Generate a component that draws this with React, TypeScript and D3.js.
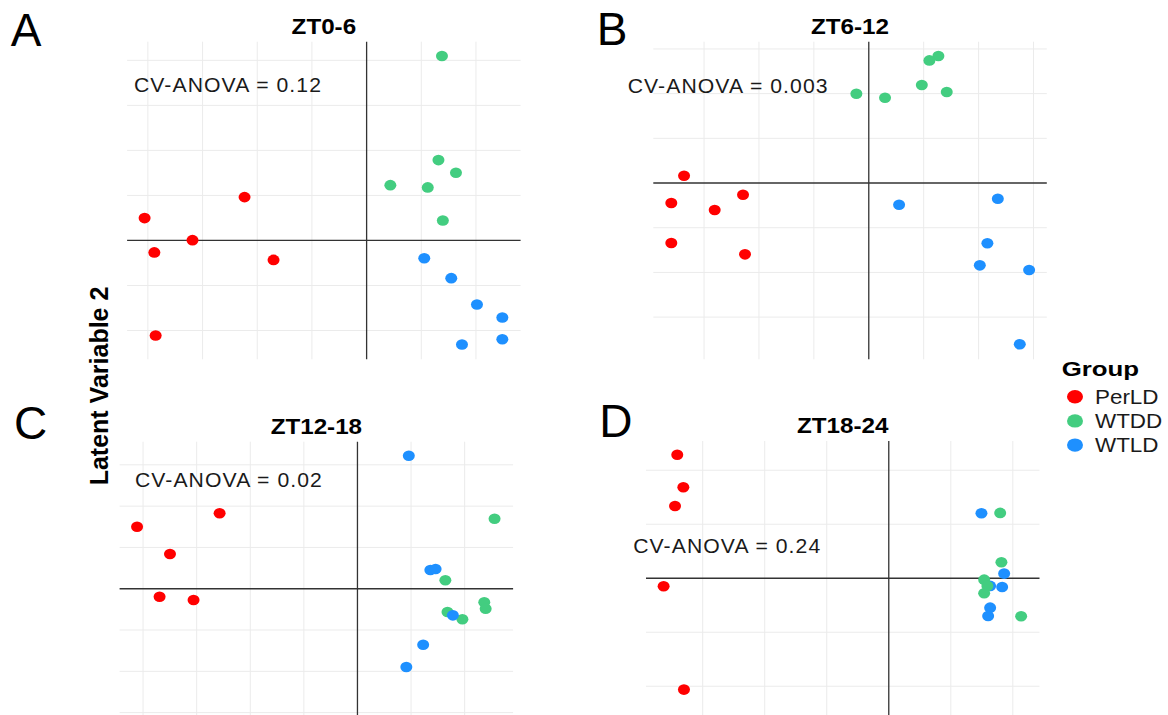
import React, { useEffect, useRef } from "react";
import * as d3 from "d3";

const groups = ["PerLD", "WTDD", "WTLD"];
const groupColors = ["#ff0000", "#43cd80", "#1e90ff"];

const panelTitles = ["ZT0-6", "ZT6-12", "ZT12-18", "ZT18-24"];
const panelLetters = ["A", "B", "C", "D"];
const cvAnova = ["0.12", "0.003", "0.02", "0.24"];

// [group, latent variable 1, latent variable 2], in drawing order
const scoresZT0_6 = [
  ["PerLD", -20.3, 2.48], ["PerLD", -11.16, 4.81], ["PerLD", -15.92, 0.03],
  ["PerLD", -19.41, -1.33], ["PerLD", -8.51, -2.16], ["PerLD", -19.29, -10.56],
  ["WTDD", 6.89, 20.48], ["WTDD", 6.57, 8.92], ["WTDD", 8.17, 7.51],
  ["WTDD", 2.17, 6.14], ["WTDD", 5.59, 5.89], ["WTDD", 6.97, 2.22],
  ["WTLD", 5.27, -1.97], ["WTLD", 7.74, -4.19], ["WTLD", 10.09, -7.11],
  ["WTLD", 12.41, -8.56], ["WTLD", 12.41, -10.97], ["WTLD", 8.72, -11.56],
];
const scoresZT6_12 = [
  ["PerLD", -16.82, 0.82], ["PerLD", -17.98, -2.24], ["PerLD", -14.03, -3.02],
  ["PerLD", -11.45, -1.31], ["PerLD", -17.98, -6.71], ["PerLD", -11.27, -7.98],
  ["WTDD", 6.34, 14.21], ["WTDD", 5.52, 13.72], ["WTDD", 4.83, 10.96],
  ["WTDD", 7.1, 10.18], ["WTDD", -1.13, 9.99], ["WTDD", 1.48, 9.54],
  ["WTLD", 2.76, -2.43], ["WTLD", 11.75, -1.76], ["WTLD", 10.8, -6.74],
  ["WTLD", 10.11, -9.21], ["WTLD", 14.6, -9.73], ["WTLD", 13.75, -18.04],
];
const scoresZT12_18 = [
  ["PerLD", -12.86, 9.13], ["PerLD", -20.56, 7.51], ["PerLD", -17.49, 4.2],
  ["PerLD", -18.46, -0.97], ["PerLD", -15.29, -1.37],
  ["WTDD", 12.79, 8.47], ["WTDD", 8.2, 1.02], ["WTDD", 11.83, -1.65],
  ["WTDD", 11.96, -2.42], ["WTDD", 8.4, -2.82], ["WTDD", 9.79, -3.7],
  ["WTLD", 4.79, 16.1], ["WTLD", 6.8, 2.26], ["WTLD", 7.29, 2.38],
  ["WTLD", 8.9, -3.22], ["WTLD", 6.13, -6.78], ["WTLD", 4.56, -9.48],
];
const scoresZT18_24 = [
  ["PerLD", -17.05, 11.44], ["PerLD", -16.56, 8.43], ["PerLD", -17.23, 6.69],
  ["PerLD", -18.15, -0.74], ["PerLD", -16.51, -10.31],
  ["WTLD", 7.47, 6.02], ["WTLD", 9.3, 0.43], ["WTLD", 8.17, -0.71],
  ["WTLD", 9.14, -0.81], ["WTLD", 8.17, -2.72], ["WTLD", 8.01, -3.49],
  ["WTDD", 8.98, 6.05], ["WTDD", 9.08, 1.48], ["WTDD", 7.69, -0.13],
  ["WTDD", 7.95, -0.71], ["WTDD", 7.69, -1.39], ["WTDD", 10.67, -3.52],
];
const panelScores = [scoresZT0_6, scoresZT6_12, scoresZT12_18, scoresZT18_24];

const xLimits = [[-21.9, 14.08], [-19.62, 16.21], [-22.19, 14.52], [-19.57, 12.15]];
const yLimits = [[-13.2, 22.07], [-19.72, 15.81], [-20.65, 17.8], [-16.7, 12.71]];
// where the CV-ANOVA note starts, in score units
const cvLabelAt = [[-21.27, 16.5], [-21.95, 10.03], [-20.76, 12.28], [-20.6, 2.31]];
const gridStep = 5;

// layout
const W = 1168;
const H = 715;
const panelW = 393.5;
const panelH = 317.6;
const panelOrigin = [[127.1, 41.7], [653.3, 41.7], [119.6, 441.7], [646, 441]];
const letterAt = [[10.7, 45.7], [596.7, 45], [14, 439.3], [599.3, 437.3]];
const font = "'Liberation Sans', Arial, Helvetica, sans-serif";

const App = () => {
  const ref = useRef(null);

  useEffect(() => {
    const svg = d3.select(ref.current);
    svg.selectAll("*").remove();
    const color = d3.scaleOrdinal().domain(groups).range(groupColors);

    panelScores.forEach((scores, i) => {
      const [ox, oy] = panelOrigin[i];
      const g = svg.append("g").attr("transform", `translate(${ox},${oy})`);
      const x = d3.scaleLinear().domain(xLimits[i]).range([0, panelW]);
      const y = d3.scaleLinear().domain(yLimits[i]).range([panelH, 0]);
      const xTicks = d3.range(Math.ceil(xLimits[i][0] / gridStep) * gridStep, xLimits[i][1], gridStep);
      const yTicks = d3.range(Math.ceil(yLimits[i][0] / gridStep) * gridStep, yLimits[i][1], gridStep);

      g.selectAll(".gx")
        .data(xTicks.filter((v) => v !== 0))
        .join("line")
        .attr("x1", (d) => x(d))
        .attr("x2", (d) => x(d))
        .attr("y1", 0)
        .attr("y2", panelH)
        .attr("stroke", "#ebebeb")
        .attr("stroke-width", 1);
      g.selectAll(".gy")
        .data(yTicks.filter((v) => v !== 0))
        .join("line")
        .attr("x1", 0)
        .attr("x2", panelW)
        .attr("y1", (d) => y(d))
        .attr("y2", (d) => y(d))
        .attr("stroke", "#ebebeb")
        .attr("stroke-width", 1);

      // zero lines
      g.append("line")
        .attr("x1", x(0)).attr("x2", x(0))
        .attr("y1", 0).attr("y2", panelH)
        .attr("stroke", "#333").attr("stroke-width", 1.3);
      g.append("line")
        .attr("x1", 0).attr("x2", panelW)
        .attr("y1", y(0)).attr("y2", y(0))
        .attr("stroke", "#333").attr("stroke-width", 1.3);

      g.selectAll(".pt")
        .data(scores)
        .join("ellipse")
        .attr("cx", (d) => x(d[1]))
        .attr("cy", (d) => y(d[2]))
        .attr("rx", 6)
        .attr("ry", 5.3)
        .attr("fill", (d) => color(d[0]));

      g.append("text")
        .attr("transform", `translate(${x(cvLabelAt[i][0])},${y(cvLabelAt[i][1])}) scale(1.06,1)`)
        .attr("font-family", font)
        .attr("font-size", 20)
        .attr("letter-spacing", 1)
        .attr("fill", "#1a1a1a")
        .text(`CV-ANOVA = ${cvAnova[i]}`);

      g.append("text")
        .attr("transform", `translate(${panelW / 2},-7.7) scale(1.1,1)`)
        .attr("text-anchor", "middle")
        .attr("font-family", font)
        .attr("font-size", 22)
        .attr("font-weight", "bold")
        .attr("fill", "#000")
        .text(panelTitles[i]);

      svg.append("text")
        .attr("x", letterAt[i][0])
        .attr("y", letterAt[i][1])
        .attr("font-family", font)
        .attr("font-size", 46)
        .attr("fill", "#000")
        .text(panelLetters[i]);
    });

    svg.append("text")
      .attr("transform", "translate(107.5,386) rotate(-90)")
      .attr("text-anchor", "middle")
      .attr("font-family", font)
      .attr("font-size", 25)
      .attr("font-weight", "bold")
      .attr("fill", "#000")
      .text("Latent Variable 2");

    // legend
    const legend = svg.append("g").attr("transform", "translate(1061.7,376)");
    legend.append("text")
      .attr("transform", "scale(1.23,1)")
      .attr("font-family", font)
      .attr("font-size", 21)
      .attr("font-weight", "bold")
      .attr("fill", "#000")
      .text("Group");
    const items = legend.selectAll(".item")
      .data(groups)
      .join("g")
      .attr("transform", (d, k) => `translate(0,${20.7 + k * 24.2})`);
    items.append("ellipse")
      .attr("cx", 13.3)
      .attr("cy", 0)
      .attr("rx", 8)
      .attr("ry", 6.7)
      .attr("fill", (d) => color(d));
    items.append("text")
      .attr("transform", "translate(33.3,7) scale(1.15,1)")
      .attr("font-family", font)
      .attr("font-size", 19.5)
      .attr("fill", "#1a1a1a")
      .text((d) => d);
  }, []);

  return (
    <div>
      <style>{"body{margin:0}"}</style>
      <svg ref={ref} width={W} height={H} style={{ display: "block", background: "#fff" }}></svg>
    </div>
  );
};

export default App;
